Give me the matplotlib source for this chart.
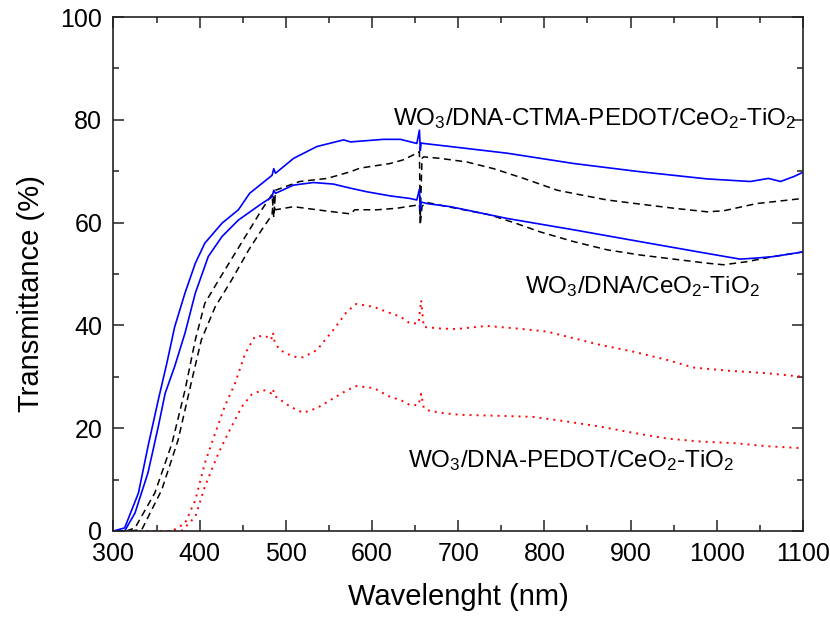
import matplotlib
matplotlib.use('Agg')
import matplotlib.pyplot as plt
from matplotlib.ticker import MultipleLocator

plt.rcParams['font.family'] = ['Liberation Sans', 'DejaVu Sans']
plt.rcParams['mathtext.fontset'] = 'custom'
plt.rcParams['mathtext.rm'] = 'Liberation Sans'
plt.rcParams['mathtext.default'] = 'regular'

# WO3/DNA-CTMA-PEDOT/CeO2-TiO2 (синяя верхняя)
wl_b1 = [300, 313, 329, 340, 352, 362, 371, 383, 395, 406, 426, 445, 458, 484, 486, 488,
         509, 536, 567, 575, 613, 633, 652, 655, 656, 657, 660, 691, 757, 834, 911, 989,
         1039, 1060, 1074, 1090, 1100]
t_b1 = [0, 0.6, 7.4, 16.4, 25.5, 32.7, 39.7, 46.3, 52.1, 56, 59.9, 62.5, 65.7, 69.2, 70.5, 69.6,
        72.5, 74.8, 76.1, 75.7, 76.2, 76.2, 75.4, 78, 74, 75.5, 75.4, 74.8, 73.5, 71.5, 69.9, 68.5,
        68, 68.6, 68, 69, 69.8]

# WO3/DNA/CeO2-TiO2 (синяя нижняя)
wl_b2 = [300, 313, 325, 340, 352, 360, 371, 383, 395, 410, 426, 445, 472, 484, 486, 488,
         509, 532, 555, 575, 594, 621, 644, 652, 655, 656, 657, 664, 691, 757, 834, 911, 989,
         1027, 1046, 1066, 1100]
t_b2 = [0, 0, 3.5, 11.3, 20.3, 26.8, 32, 38.5, 46.3, 53.4, 57.3, 60.5, 63.7, 65, 66.3, 65.7,
        67.3, 67.8, 67.5, 66.7, 66, 65.2, 64.7, 64.4, 66.5, 62.5, 64, 63.7, 63.1, 60.8, 58.6, 56.3, 54,
        52.9, 53.1, 53.4, 54.3]

# штриховые
wl_k1 = [315, 325, 348, 368, 383, 395, 406, 422, 441, 460, 472, 484, 486, 488, 516, 548,
         575, 586, 621, 636, 652, 655, 656, 658, 660, 679, 710, 741, 776, 815, 842, 873, 911,
         950, 989, 1008, 1046, 1100]
t_k1 = [0, 0.6, 7.4, 17.1, 27.4, 37.2, 44.3, 48.8, 54, 59.2, 62.5, 65.5, 61, 66.3, 68, 68.6,
        69.9, 70.6, 71.5, 72.2, 73.5, 73.8, 61, 72.5, 72.8, 72.5, 71.8, 70.5, 68.6, 66.3, 65.4, 64.4, 63.6,
        62.8, 62.1, 62.3, 63.7, 64.7]

wl_k2 = [320, 333, 356, 375, 391, 402, 418, 437, 457, 472, 484, 486, 488, 509, 536, 555,
         575, 580, 606, 629, 652, 655, 656, 658, 664, 691, 737, 768, 795, 834, 873, 911, 950,
         989, 1008, 1035, 1066, 1100]
t_k2 = [0, 0.3, 8, 17.7, 29.4, 37.2, 43.6, 48.8, 54.7, 58.6, 61.5, 65.5, 62.5, 63.1, 62.5, 62.1,
        61.7, 62.5, 62.5, 62.8, 63.4, 63.6, 59.5, 63.2, 63.9, 63.0, 61.5, 59.8, 58.2, 56.3, 54.7, 53.7, 52.9,
        52.1, 51.8, 52.4, 53.4, 54.3]

# WO3/DNA-PEDOT/CeO2-TiO2 (красные пунктирные)
wl_r1 = [330, 368, 383, 395, 406, 418, 429, 441, 453, 464, 476, 483, 485, 487, 493, 509, 520,
         536, 555, 571, 582, 602, 621, 633, 644, 654, 657, 660, 679, 698, 733, 768, 803, 834,
         865, 903, 942, 973, 1012, 1058, 1100]
t_r1 = [0, 0, 1.5, 6, 13.2, 19, 24.2, 28.7, 34.6, 37.8, 38, 37.2, 38.6, 36.8, 35.2, 33.9, 33.8,
        35.2, 39.1, 42.7, 44.2, 43.6, 42.4, 41.7, 40.4, 40.4, 44.9, 39.7, 39.4, 39.3, 39.9, 39.4, 38.8, 37.5,
        36.2, 34.9, 33.3, 31.8, 31.2, 30.7, 30]

wl_r2 = [330, 379, 395, 406, 422, 433, 449, 460, 472, 478, 483, 485, 487, 505, 520, 536, 555,
         571, 582, 602, 621, 633, 644, 654, 657, 660, 664, 679, 702, 749, 787, 826, 865, 903,
         942, 981, 1020, 1058, 1100]
t_r2 = [0, 0, 2.8, 8.6, 15.2, 19, 24.2, 26.5, 27.4, 27.3, 26.8, 27.6, 26.3, 24.2, 23, 23.9, 25.8,
        27.4, 28.2, 27.8, 26.1, 25.5, 24.5, 24.5, 26.7, 24, 23.5, 23, 22.6, 22.4, 22.2, 21.3, 20.3, 19.1,
        18, 17.4, 17.1, 16.5, 16.1]

fig = plt.figure(figsize=(8.3, 6.17), dpi=100)
ax = fig.add_axes([0.1367, 0.1394, 0.8307, 0.833])

ax.plot(wl_k1, t_k1, color='black', lw=1.1, dashes=(4.5, 3))
ax.plot(wl_k2, t_k2, color='black', lw=1.1, dashes=(4.5, 3))
ax.plot(wl_r1, t_r1, color='#ff0000', lw=1.4, dashes=(1, 2.6))
ax.plot(wl_r2, t_r2, color='#ff0000', lw=1.4, dashes=(1, 2.6))
ax.plot(wl_b1, t_b1, color='#0000ff', lw=1.2)
ax.plot(wl_b2, t_b2, color='#0000ff', lw=1.2)

ax.set_xlim(300, 1100)
ax.set_ylim(0, 100)
ax.xaxis.set_major_locator(MultipleLocator(100))
ax.xaxis.set_minor_locator(MultipleLocator(50))
ax.yaxis.set_major_locator(MultipleLocator(20))
ax.yaxis.set_minor_locator(MultipleLocator(10))
ax.tick_params(which='both', direction='in', top=True, right=True, labelsize=18, pad=8, width=1.1, color='#222222')
ax.tick_params(which='major', length=8)
ax.tick_params(which='minor', length=4)
for s in ax.spines.values():
    s.set_linewidth(1.2)
    s.set_color('#222222')

ax.set_xlabel('Wavelenght (nm)', fontsize=21)
ax.set_ylabel('Transmittance (%)', fontsize=21)
ax.xaxis.set_label_coords(0.5, -0.101)
ax.yaxis.set_label_coords(-0.10, 0.462)

ax.text(624.5, 79, 'WO$_3$/DNA-CTMA-PEDOT/CeO$_2$-TiO$_2$', fontsize=17.5, va='baseline', ha='left')
ax.text(778, 46.3, 'WO$_3$/DNA/CeO$_2$-TiO$_2$', fontsize=17.5, va='baseline', ha='left')
ax.text(642, 12.5, 'WO$_3$/DNA-PEDOT/CeO$_2$-TiO$_2$', fontsize=17.5, va='baseline', ha='left')

fig.savefig('out.png', dpi=100)
